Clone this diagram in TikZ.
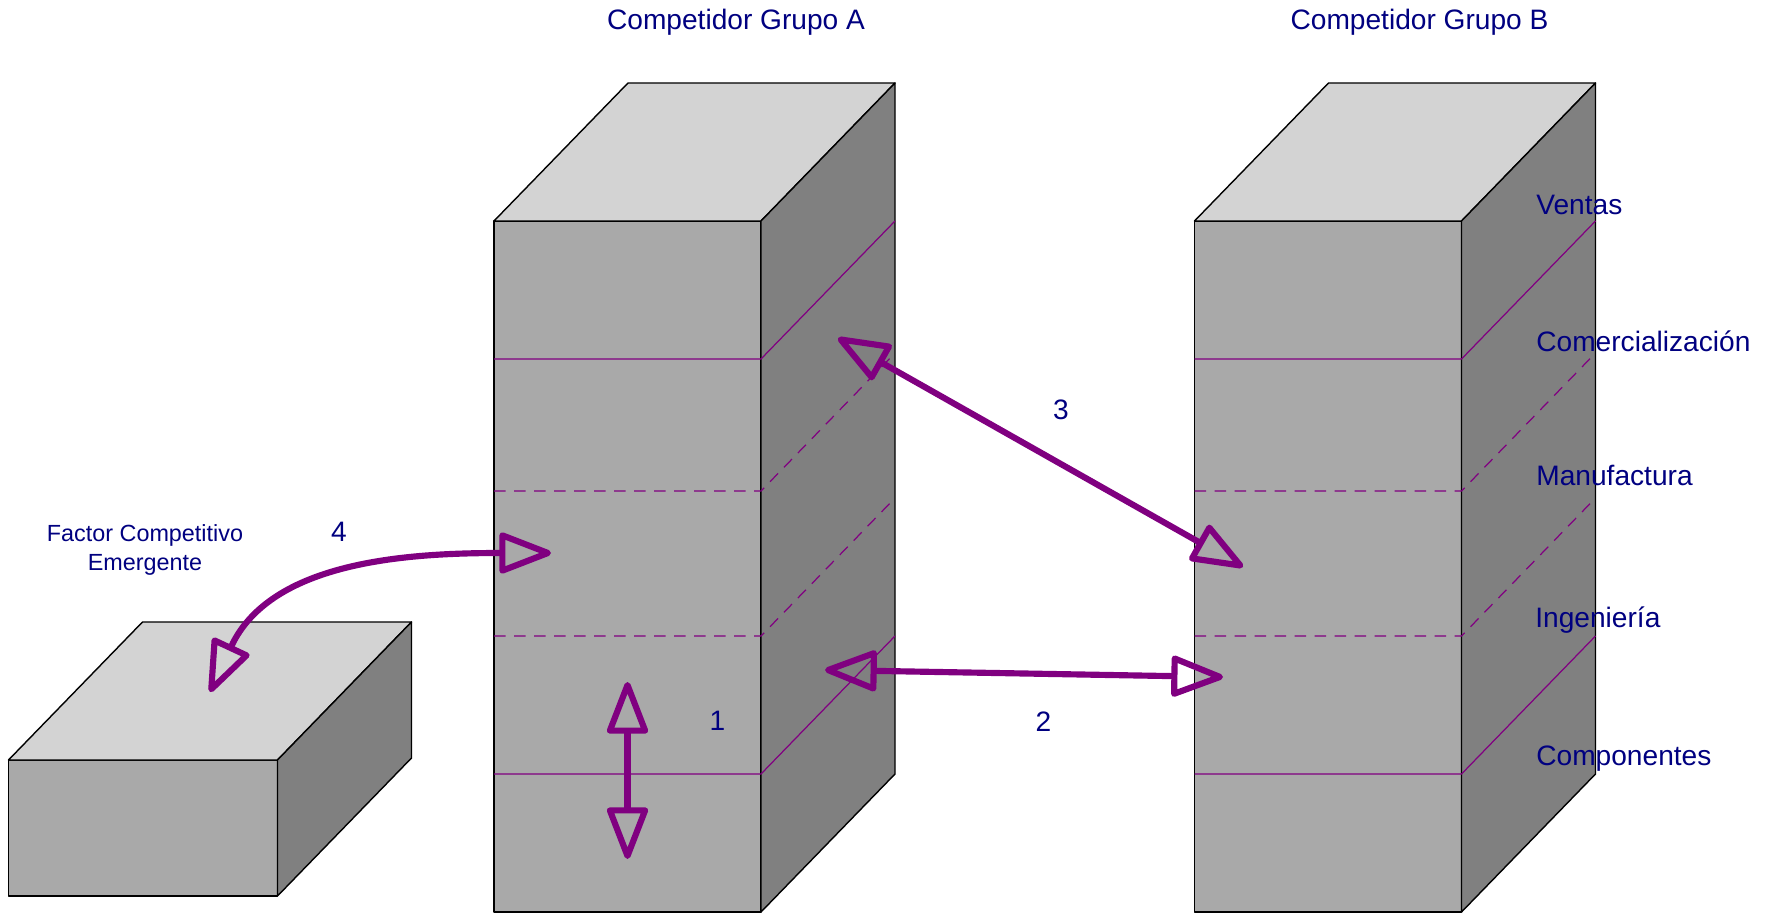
\documentclass[tikz,border=0pt]{standalone}
\usepackage{fontspec}
\setmainfont{Liberation Sans}
\usetikzlibrary{arrows.meta}

\definecolor{labelblue}{HTML}{000080}
\definecolor{linkpurple}{HTML}{800080}
\definecolor{frontgray}{HTML}{A9A9A9}
\definecolor{topgray}{HTML}{D3D3D3}
\definecolor{sidegray}{HTML}{808080}

\begin{document}
\begin{tikzpicture}[
    facefront/.style={fill=frontgray, draw=black, line width=0.8pt, line join=round},
    facetop/.style={fill=topgray, draw=black, line width=0.8pt, line join=round},
    faceside/.style={fill=sidegray, draw=black, line width=0.8pt, line join=round},
    band/.style={draw=linkpurple, line width=0.7pt},
    bandgap/.style={band, dash pattern=on 0.23cm off 0.17cm},
    lbl/.style={text=labelblue, font=\fontsize{16}{19}\selectfont, inner sep=0pt},
    link/.style={draw=linkpurple, line width=3.5pt, >={Triangle[open, length=1.15cm, width=0.85cm, round]}, <->}
  ]
    \useasboundingbox (0,0) rectangle (35.34,18.24);

    % Competidor Grupo A
    \draw[facefront] (9.88,0) rectangle (15.22,13.82);
    \draw[facetop] (9.88,13.82) -- (12.56,16.58) -- (17.90,16.58) -- (15.22,13.82) -- cycle;
    \draw[faceside] (15.22,0) -- (15.22,13.82) -- (17.90,16.58) -- (17.90,2.76) -- cycle;
    \draw[band] (9.88,11.06) -- (15.22,11.06) -- (17.90,13.82);
    \draw[bandgap] (9.88,8.42) -- (15.22,8.42) -- (17.90,11.18);
    \draw[bandgap] (9.88,5.52) -- (15.22,5.52) -- (17.90,8.28);
    \draw[band] (9.88,2.76) -- (15.22,2.76) -- (17.90,5.52);

    % Competidor Grupo B
    \draw[facefront] (23.89,0) rectangle (29.23,13.82);
    \draw[facetop] (23.89,13.82) -- (26.57,16.58) -- (31.91,16.58) -- (29.23,13.82) -- cycle;
    \draw[faceside] (29.23,0) -- (29.23,13.82) -- (31.91,16.58) -- (31.91,2.76) -- cycle;
    \draw[band] (23.89,11.06) -- (29.23,11.06) -- (31.91,13.82);
    \draw[bandgap] (23.89,8.42) -- (29.23,8.42) -- (31.91,11.18);
    \draw[bandgap] (23.89,5.52) -- (29.23,5.52) -- (31.91,8.28);
    \draw[band] (23.89,2.76) -- (29.23,2.76) -- (31.91,5.52);

    % factor emergente
    \draw[facefront] (0.17,0.32) rectangle (5.55,3.04);
    \draw[facetop] (0.17,3.04) -- (2.85,5.80) -- (8.23,5.80) -- (5.55,3.04) -- cycle;
    \draw[faceside] (5.55,0.32) -- (5.55,3.04) -- (8.23,5.80) -- (8.23,3.08) -- cycle;

    \node[lbl, anchor=base] (titleA) at (14.72,17.64) {Competidor Grupo A};
    \node[lbl, anchor=base] (titleB) at (28.39,17.64) {Competidor Grupo B};
    \node[lbl, anchor=base west] (ventas) at (30.72,13.95) {Ventas};
    \node[lbl, anchor=base west] (comercial) at (30.72,11.21) {Comercialización};
    \node[lbl, anchor=base west] (manufactura) at (30.72,8.53) {Manufactura};
    \node[lbl, anchor=base west] (ingenieria) at (30.70,5.69) {Ingeniería};
    \node[lbl, anchor=base west] (componentes) at (30.72,2.94) {Componentes};
    \node[lbl, align=center, font=\fontsize{13.3}{16.5}\selectfont] (factor) at (2.90,7.24) {Factor Competitivo\\Emergente};

    \node[lbl, anchor=base] (n1) at (14.35,3.63) {1};
    \node[lbl, anchor=base] (n2) at (20.87,3.62) {2};
    \node[lbl, anchor=base] (n3) at (21.22,9.84) {3};
    \node[lbl, anchor=base] (n4) at (6.78,7.40) {4};

    \coordinate (A_up) at (12.55,4.60);
    \coordinate (A_low) at (12.55,1.06);
    \coordinate (A_comp) at (16.50,4.84);
    \coordinate (B_ing) at (24.46,4.70);
    \coordinate (A_com) at (16.76,11.48);
    \coordinate (B_man) at (24.86,6.90);
    \coordinate (A_man) at (11.02,7.18);
    \coordinate (E_top) at (4.20,4.40);

    \draw[link] (A_up) -- (A_low);
    \draw[link] (A_comp) -- (B_ing);
    \draw[link] (A_com) -- (B_man);
    \draw[link] (E_top) to[out=65, in=180] (A_man);

  \end{tikzpicture}
\end{document}
